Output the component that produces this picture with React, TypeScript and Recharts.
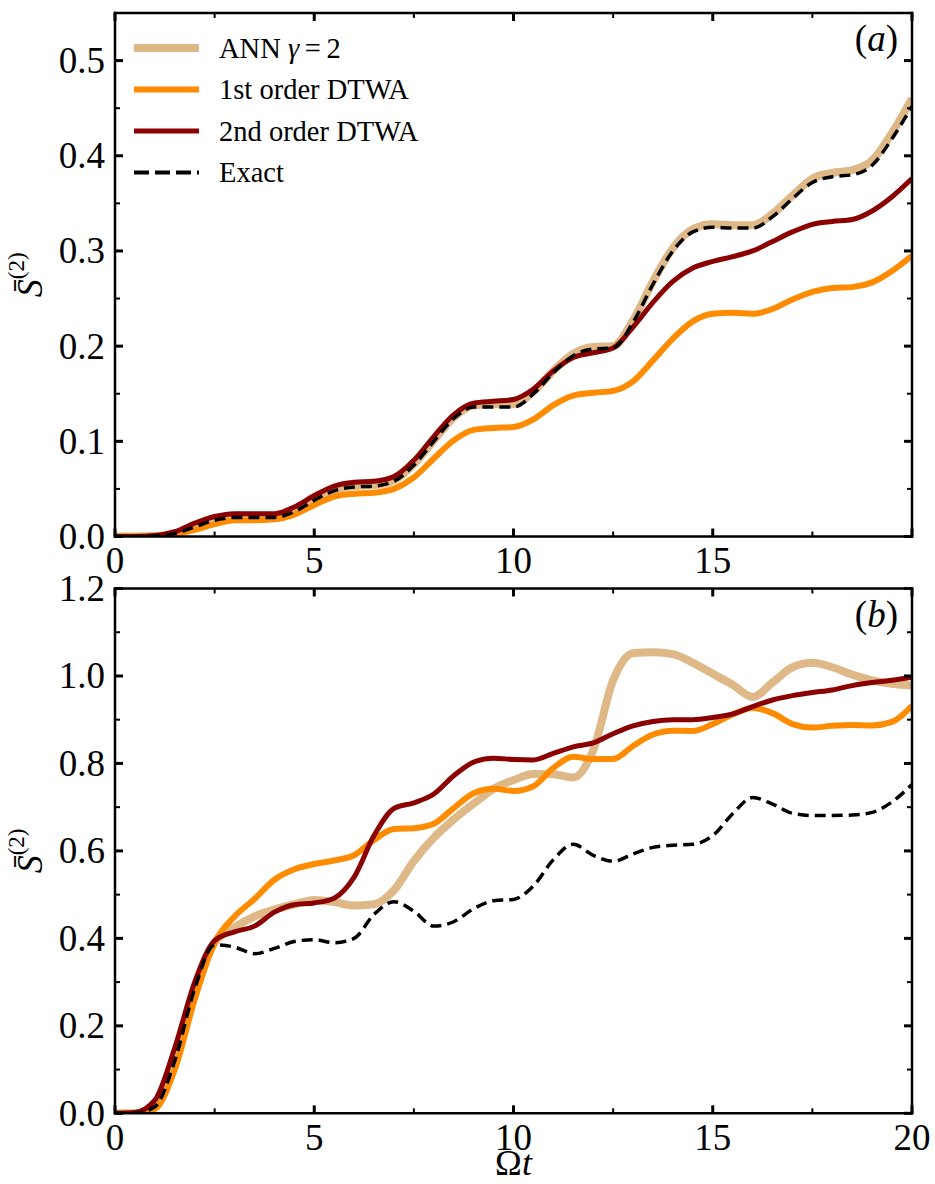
import React from 'react';
import { LineChart, Line, XAxis, YAxis, Legend } from 'recharts';

const SERIF = '"Liberation Serif", "Times New Roman", Times, serif';
const SERIF_STYLE = { fontFamily: SERIF };
const ANN_COLOR = '#DEB887';
const FIRST_COLOR = '#FF8C00';
const SECOND_COLOR = '#8B0000';
const EXACT_COLOR = '#000000';

// time axis (Omega t)
const tValues = [0, 0.5, 1, 1.5, 2, 2.5, 3, 3.5, 4, 4.5, 5, 5.5, 6, 6.5, 7, 7.5, 8, 8.5, 9, 9.5, 10,
  10.5, 11, 11.5, 12, 12.5, 13, 13.5, 14, 14.5, 15, 15.5, 16, 16.5, 17, 17.5, 18, 18.5, 19, 19.5, 20];

// panel (a)
const annA = [0, 0, 0.0005, 0.003, 0.010, 0.017, 0.020, 0.020, 0.020, 0.026, 0.039, 0.049, 0.053, 0.054, 0.059, 0.076, 0.101, 0.125, 0.138, 0.139, 0.139,
  0.152, 0.174, 0.192, 0.199, 0.200, 0.227, 0.268, 0.303, 0.323, 0.328, 0.327, 0.327, 0.339, 0.358, 0.376, 0.382, 0.385, 0.395, 0.424, 0.460];
const firstA = [0, 0, 0, 0.002, 0.007, 0.013, 0.017, 0.017, 0.018, 0.023, 0.033, 0.042, 0.045, 0.046, 0.050, 0.062, 0.082, 0.101, 0.112, 0.114, 0.115,
  0.123, 0.138, 0.148, 0.151, 0.153, 0.163, 0.185, 0.208, 0.226, 0.234, 0.235, 0.234, 0.239, 0.249, 0.257, 0.261, 0.262, 0.267, 0.279, 0.295];
const secondA = [0, 0, 0.001, 0.005, 0.014, 0.021, 0.024, 0.024, 0.024, 0.031, 0.043, 0.053, 0.057, 0.058, 0.063, 0.080, 0.105, 0.128, 0.140, 0.142, 0.144,
  0.155, 0.174, 0.188, 0.193, 0.198, 0.220, 0.246, 0.268, 0.282, 0.289, 0.294, 0.300, 0.310, 0.320, 0.328, 0.331, 0.333, 0.342, 0.357, 0.376];
const exactA = [0, 0, 0.0005, 0.003, 0.010, 0.017, 0.020, 0.020, 0.020, 0.026, 0.038, 0.048, 0.052, 0.053, 0.058, 0.075, 0.100, 0.124, 0.136, 0.136, 0.136,
  0.150, 0.172, 0.190, 0.197, 0.198, 0.225, 0.265, 0.300, 0.320, 0.325, 0.324, 0.324, 0.336, 0.355, 0.372, 0.378, 0.380, 0.390, 0.418, 0.452];

// panel (b)
const annB = [0, 0, 0.015, 0.12, 0.28, 0.39, 0.425, 0.45, 0.466, 0.478, 0.488, 0.483, 0.475, 0.478, 0.51, 0.577, 0.63, 0.672, 0.708, 0.742, 0.762,
  0.776, 0.775, 0.768, 0.83, 0.99, 1.052, 1.054, 1.05, 1.03, 1.005, 0.98, 0.952, 0.985, 1.02, 1.03, 1.02, 1.003, 0.99, 0.982, 0.978];
const firstB = [0, 0, 0.01, 0.10, 0.26, 0.39, 0.45, 0.49, 0.534, 0.558, 0.570, 0.578, 0.59, 0.625, 0.65, 0.652, 0.662, 0.698, 0.732, 0.742, 0.737,
  0.748, 0.79, 0.815, 0.81, 0.81, 0.84, 0.866, 0.875, 0.874, 0.89, 0.912, 0.927, 0.915, 0.89, 0.882, 0.886, 0.888, 0.887, 0.895, 0.932];
const secondB = [0, 0.002, 0.03, 0.15, 0.30, 0.395, 0.415, 0.428, 0.46, 0.477, 0.481, 0.492, 0.54, 0.635, 0.697, 0.71, 0.73, 0.772, 0.803, 0.812, 0.809,
  0.808, 0.823, 0.838, 0.847, 0.868, 0.886, 0.896, 0.90, 0.90, 0.905, 0.913, 0.93, 0.945, 0.955, 0.962, 0.968, 0.978, 0.985, 0.99, 0.997];
const exactB = [0, 0, 0.015, 0.12, 0.285, 0.385, 0.38, 0.365, 0.377, 0.393, 0.397, 0.39, 0.40, 0.455, 0.484, 0.462, 0.428, 0.438, 0.468, 0.486, 0.489,
  0.52, 0.58, 0.615, 0.59, 0.576, 0.593, 0.608, 0.613, 0.615, 0.635, 0.685, 0.722, 0.707, 0.686, 0.681, 0.681, 0.682, 0.688, 0.712, 0.752];

// ticks
const xTicks = [0, 2.5, 5, 7.5, 10, 12.5, 15, 17.5, 20];
const xMajors = [0, 5, 10, 15, 20];
const xLabelsA = [0, 5, 10, 15];
const xLabelsB = [0, 5, 10, 15, 20];
const yTicksA = [0, 0.05, 0.1, 0.15, 0.2, 0.25, 0.3, 0.35, 0.4, 0.45, 0.5];
const yMajorsA = [0, 0.1, 0.2, 0.3, 0.4, 0.5];
const yTicksB = [0, 0.1, 0.2, 0.3, 0.4, 0.5, 0.6, 0.7, 0.8, 0.9, 1.0, 1.1, 1.2];
const yMajorsB = [0, 0.2, 0.4, 0.6, 0.8, 1.0, 1.2];

const dataA = tValues.map((t, i) => ({ t, ann: annA[i], first: firstA[i], second: secondA[i], exact: exactA[i] }));
const dataB = tValues.map((t, i) => ({ t, ann: annB[i], first: firstB[i], second: secondB[i], exact: exactB[i] }));

const has = (arr: number[], v: number) => arr.some((m) => Math.abs(m - v) < 1e-6);

const TICK_FONT = 37;

const leftTick = (majors: number[]) => (props: any) => {
  const { x, y, payload } = props;
  const v = payload.value;
  const major = has(majors, v);
  return (
    <g>
      <line x1={x} x2={x + (major ? 8 : 5)} y1={y} y2={y} stroke="#000" strokeWidth={major ? 3 : 2} />
      {major && (
        <text x={x - 10} y={y + 12.5} textAnchor="end" fontFamily={SERIF} style={SERIF_STYLE} fontSize={TICK_FONT} fill="#000">
          {v.toFixed(1)}
        </text>
      )}
    </g>
  );
};

const rightTick = (majors: number[]) => (props: any) => {
  const { x, y, payload } = props;
  const major = has(majors, payload.value);
  return <line x1={x} x2={x - (major ? 8 : 5)} y1={y} y2={y} stroke="#000" strokeWidth={major ? 3 : 2} />;
};

const bottomTick = (labels: number[]) => (props: any) => {
  const { x, y, payload } = props;
  const v = payload.value;
  const major = has(xMajors, v);
  return (
    <g>
      <line x1={x} x2={x} y1={y} y2={y - (major ? 8 : 5)} stroke="#000" strokeWidth={major ? 3 : 2} />
      {has(labels, v) && (
        <text x={x} y={y + 36.5} textAnchor="middle" fontFamily={SERIF} style={SERIF_STYLE} fontSize={TICK_FONT} fill="#000">
          {String(v)}
        </text>
      )}
    </g>
  );
};

const topTick = (props: any) => {
  const { x, y, payload } = props;
  const major = has(xMajors, payload.value);
  return <line x1={x} x2={x} y1={y} y2={y + (major ? 8 : 5)} stroke="#000" strokeWidth={major ? 3 : 2} />;
};

const yLabel = (props: any) => {
  const vb = props.viewBox || {};
  const cx = (vb.x ?? 15) + 15;
  const cy = (vb.y ?? 0) + (vb.height ?? 0) / 2;
  return (
    <text
      transform={`translate(${cx},${cy}) rotate(-90)`}
      textAnchor="middle"
      dominantBaseline="central"
      fontFamily={SERIF}
      style={SERIF_STYLE}
      fontSize={36}
      fill="#000"
    >
      <tspan fontStyle="italic">{'S\u0304'}</tspan>
      <tspan fontSize={23} dy={-14}>(2)</tspan>
    </text>
  );
};

const panelTag = (letter: string) => (props: any) => {
  const vb = props.viewBox || {};
  const xr = (vb.x ?? 115) + (vb.width ?? 797) - 14;
  const yt = (vb.y ?? 0) + (vb.height ?? 0);
  return (
    <text x={xr} y={yt + 38} textAnchor="end" fontFamily={SERIF} style={SERIF_STYLE} fontSize={37} fill="#000">
      <tspan>(</tspan>
      <tspan fontStyle="italic">{letter}</tspan>
      <tspan>)</tspan>
    </text>
  );
};

const xLabel = (props: any) => {
  const vb = props.viewBox || {};
  const cx = (vb.x ?? 115) + (vb.width ?? 797) / 2;
  const y = (vb.y ?? 553) + 62;
  return (
    <text x={cx} y={y} textAnchor="middle" fontFamily={SERIF} style={SERIF_STYLE} fontSize={36} fill="#000">
      <tspan>Ω</tspan>
      <tspan fontStyle="italic">t</tspan>
    </text>
  );
};

const legendItems = [
  { label: 'ann', color: ANN_COLOR, width: 8, dash: undefined as string | undefined },
  { label: '1st order DTWA', color: FIRST_COLOR, width: 6, dash: undefined },
  { label: '2nd order DTWA', color: SECOND_COLOR, width: 5, dash: undefined },
  { label: 'Exact', color: EXACT_COLOR, width: 4, dash: '15 6' },
];

const LegendBox = () => (
  <svg width={330} height={175} style={{ overflow: 'visible', display: 'block' }}>
    {legendItems.map((it, i) => {
      const cy = 18 + i * 41.5;
      return (
        <g key={i}>
          <line x1={0} x2={65} y1={cy} y2={cy} stroke={it.color} strokeWidth={it.width} strokeDasharray={it.dash} />
          <text x={85} y={cy + 9.5} fontFamily={SERIF} style={SERIF_STYLE} fontSize={28.5} fill="#000">
            {it.label === 'ann' ? (
              <>
                <tspan>ANN </tspan>
                <tspan fontStyle="italic">γ</tspan>
                <tspan>{'\u2009=\u20092'}</tspan>
              </>
            ) : (
              it.label
            )}
          </text>
        </g>
      );
    })}
  </svg>
);

const AXIS_LINE = { stroke: '#000', strokeWidth: 2.5, strokeLinecap: 'square' as const };

function Panel(props: {
  data: any[];
  height: number;
  margin: any;
  yDomain: [number, number];
  yTicks: number[];
  yMajors: number[];
  xLabels: number[];
  tag: string;
  showLegend: boolean;
  showXLabel: boolean;
}) {
  const { data, height, margin, yDomain, yTicks, yMajors, xLabels, tag, showLegend, showXLabel } = props;
  return (
    <LineChart width={935} height={height} data={data} margin={margin} style={SERIF_STYLE}>
      <XAxis
        xAxisId="b"
        dataKey="t"
        type="number"
        domain={[0, 20]}
        ticks={xTicks}
        interval={0}
        orientation="bottom"
        height={40}
        tickSize={0}
        tickMargin={0}
        tickLine={false}
        axisLine={AXIS_LINE}
        tick={bottomTick(xLabels)}
        label={showXLabel ? xLabel : undefined}
        allowDataOverflow
      />
      <XAxis
        xAxisId="t"
        dataKey="t"
        type="number"
        domain={[0, 20]}
        ticks={xTicks}
        interval={0}
        orientation="top"
        height={1}
        tickSize={0}
        tickMargin={0}
        tickLine={false}
        axisLine={AXIS_LINE}
        tick={topTick}
        label={panelTag(tag)}
        allowDataOverflow
      />
      <YAxis
        yAxisId="l"
        type="number"
        domain={yDomain}
        ticks={yTicks}
        interval={0}
        orientation="left"
        width={100}
        tickSize={0}
        tickMargin={0}
        tickLine={false}
        axisLine={AXIS_LINE}
        tick={leftTick(yMajors)}
        label={yLabel}
        allowDataOverflow
      />
      <YAxis
        yAxisId="r"
        type="number"
        domain={yDomain}
        ticks={yTicks}
        interval={0}
        orientation="right"
        width={1}
        tickSize={0}
        tickMargin={0}
        tickLine={false}
        axisLine={AXIS_LINE}
        tick={rightTick(yMajors)}
        allowDataOverflow
      />
      <Line xAxisId="b" yAxisId="l" type="monotone" dataKey="ann" name="ANN γ=2" stroke={ANN_COLOR} strokeWidth={8} dot={false} isAnimationActive={false} />
      <Line xAxisId="b" yAxisId="l" type="monotone" dataKey="first" name="1st order DTWA" stroke={FIRST_COLOR} strokeWidth={6} dot={false} isAnimationActive={false} />
      <Line xAxisId="b" yAxisId="l" type="monotone" dataKey="second" name="2nd order DTWA" stroke={SECOND_COLOR} strokeWidth={5} dot={false} isAnimationActive={false} />
      <Line xAxisId="b" yAxisId="l" type="monotone" dataKey="exact" name="Exact" stroke={EXACT_COLOR} strokeWidth={3.5} strokeDasharray="11 6" dot={false} isAnimationActive={false} />
      {showLegend && (
        <Legend
          layout="vertical"
          align="center"
          verticalAlign="middle"
          content={() => <LegendBox />}
          wrapperStyle={{ top: 30, left: 134, width: 330, height: 175 }}
        />
      )}
    </LineChart>
  );
}

export default function App() {
  return (
    <div style={{ position: 'absolute', left: 0, top: 0, width: 935, height: 1184, background: '#fff', fontFamily: SERIF }}>
      <div style={{ position: 'absolute', left: 0, top: 0 }}>
        <Panel
          data={dataA}
          height={600}
          margin={{ top: 12, right: 22, bottom: 23.5, left: 15 }}
          yDomain={[0, 0.55]}
          yTicks={yTicksA}
          yMajors={yMajorsA}
          xLabels={xLabelsA}
          tag="a"
          showLegend
          showXLabel={false}
        />
      </div>
      <div style={{ position: 'absolute', left: 0, top: 560 }}>
        <Panel
          data={dataB}
          height={624}
          margin={{ top: 27.5, right: 22, bottom: 30.7, left: 15 }}
          yDomain={[0, 1.2]}
          yTicks={yTicksB}
          yMajors={yMajorsB}
          xLabels={xLabelsB}
          tag="b"
          showLegend={false}
          showXLabel
        />
      </div>
    </div>
  );
}
